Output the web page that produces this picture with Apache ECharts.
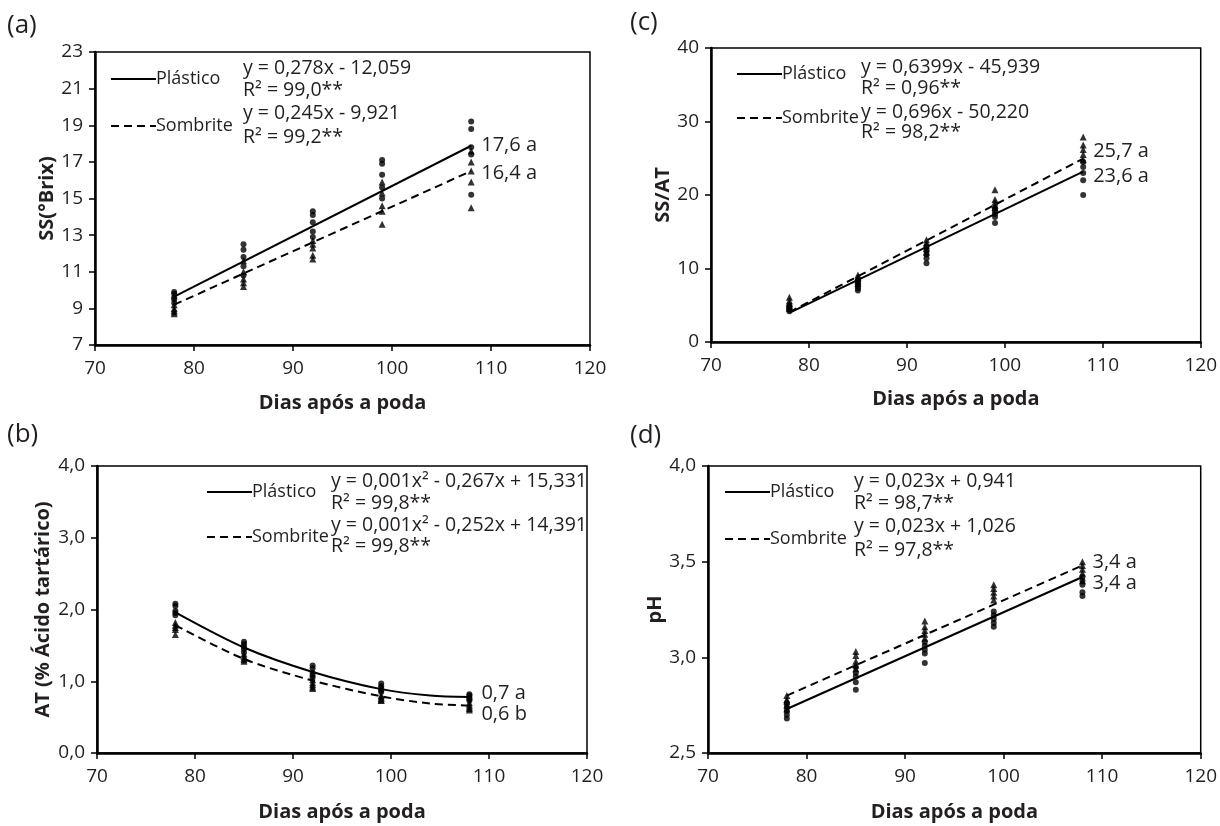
<!DOCTYPE html>
<html>
<head>
<meta charset="utf-8">
<title>SS, AT, SS/AT e pH</title>
<script src="https://cdn.jsdelivr.net/npm/echarts@6.0.0/dist/echarts.min.js"></script>
<style>
html, body { margin: 0; padding: 0; background: #fff; }
#chart { width: 1220px; height: 826px; }
</style>
</head>
<body>
<div id="chart"></div>
<script>
// dias após a poda
var dias = [78, 85, 92, 99, 108];
var retaDias = [78, 108];
var curvaDias = [78, 85, 92, 99, 104, 108];

// (a) SS (°Brix)
var ssPlastico = [[9.9, 9.8, 9.6, 9.5, 9.3], [12.5, 12.2, 11.8, 11.3, 10.8], [14.3, 14.1, 13.7, 13.2, 12.9], [17.1, 16.9, 16.3, 15.6, 15.0], [19.2, 18.8, 17.8, 17.4, 15.2]];
var ssSombrite = [[9.2, 9.0, 8.9, 8.8, 8.7], [11.6, 11.0, 10.6, 10.4, 10.2], [12.7, 12.5, 12.3, 11.9, 11.7], [15.9, 15.3, 14.6, 14.3, 13.6], [17.6, 17.0, 16.5, 15.9, 14.5]];
var ssRetaPlastico = [9.64, 17.88];
var ssRetaSombrite = [9.2, 16.5];

// (c) SS/AT
var ratioPlastico = [[5.0, 4.8, 4.6, 4.4, 4.2], [8.4, 8.0, 7.6, 7.3, 7.0], [13.0, 12.4, 11.9, 11.4, 10.7], [18.2, 17.8, 17.4, 17.0, 16.2], [24.5, 23.8, 23.0, 22.0, 20.0]];
var ratioSombrite = [[6.1, 5.6, 5.2, 4.9, 4.6], [9.1, 8.8, 8.6, 8.3, 8.0], [13.9, 13.5, 13.1, 12.7, 12.2], [20.7, 19.4, 19.0, 18.6, 18.3], [27.9, 26.8, 26.2, 25.5, 24.8]];
var ratioRetaPlastico = [3.97, 23.17];
var ratioRetaSombrite = [4.07, 24.95];

// (b) AT (% ácido tartárico)
var atPlastico = [[2.08, 2.05, 1.98, 1.95, 1.92], [1.55, 1.52, 1.48, 1.45, 1.40], [1.22, 1.18, 1.12, 1.08, 1.05], [0.97, 0.93, 0.90, 0.87, 0.85], [0.82, 0.80, 0.77, 0.75, 0.73]];
var atSombrite = [[1.82, 1.78, 1.75, 1.72, 1.65], [1.38, 1.35, 1.32, 1.30, 1.28], [1.02, 0.98, 0.95, 0.92, 0.90], [0.80, 0.78, 0.76, 0.74, 0.73], [0.70, 0.67, 0.64, 0.62, 0.60]];
var atCurvaPlastico = [1.96, 1.47, 1.13, 0.89, 0.80, 0.78];
var atCurvaSombrite = [1.78, 1.31, 1.01, 0.79, 0.69, 0.66];

// (d) pH
var phPlastico = [[2.76, 2.74, 2.72, 2.70, 2.68], [2.95, 2.92, 2.90, 2.87, 2.83], [3.08, 3.06, 3.04, 3.02, 2.97], [3.24, 3.22, 3.20, 3.18, 3.16], [3.42, 3.40, 3.38, 3.34, 3.32]];
var phSombrite = [[2.80, 2.78, 2.77, 2.75, 2.73], [3.03, 3.01, 2.98, 2.96, 2.94], [3.19, 3.16, 3.14, 3.12, 3.10], [3.38, 3.36, 3.34, 3.32, 3.30], [3.50, 3.48, 3.46, 3.44, 3.40]];
var phRetaPlastico = [2.73, 3.42];
var phRetaSombrite = [2.80, 3.48];

var fonte = '"Open Sans", "Noto Sans", sans-serif';
var corTexto = '#231f20';

function pontos(valores) {
    var out = [];
    for (var i = 0; i < dias.length; i++) {
        for (var j = 0; j < valores[i].length; j++) {
            out.push([dias[i], valores[i][j]]);
        }
    }
    return out;
}
function pares(xs, ys) {
    return xs.map(function (x, i) { return [x, ys[i]]; });
}
function virgula(dec) {
    return function (v) { return dec ? v.toFixed(dec).replace('.', ',') : String(v); };
}

function eixoX(g, gap) {
    return {
        type: 'value', gridIndex: g, min: 70, max: 120, interval: 10,
        name: 'Dias após a poda', nameLocation: 'middle', nameGap: gap,
        nameTextStyle: { fontFamily: fonte, fontWeight: 'bold', fontSize: 20, color: corTexto },
        axisLine: { show: true, lineStyle: { color: '#000', width: 2.5 } },
        axisTick: { show: true, length: 6, lineStyle: { color: '#000', width: 1.5 } },
        axisLabel: { fontFamily: fonte, fontSize: 19, color: corTexto, margin: 14 },
        splitLine: { show: false }
    };
}
function eixoY(g, nome, min, max, intervalo, dec, gap) {
    return {
        type: 'value', gridIndex: g, min: min, max: max, interval: intervalo,
        name: nome, nameLocation: 'middle', nameGap: gap, nameRotate: 90,
        nameTextStyle: { fontFamily: fonte, fontWeight: 'bold', fontSize: 20, color: corTexto },
        axisLine: { show: true, lineStyle: { color: '#000', width: 2.5 } },
        axisTick: { show: true, length: 6, lineStyle: { color: '#000', width: 1.5 } },
        axisLabel: { fontFamily: fonte, fontSize: 19, color: corTexto, margin: 12, formatter: virgula(dec) },
        splitLine: { show: false }
    };
}

function seriesPainel(g, plastico, sombrite, linhaX, linhaP, linhaS, suave, rotP, rotS, offP, offS) {
    var rot = function (txt, off) {
        return { show: true, formatter: txt, offset: off, fontFamily: fonte, fontSize: 20, color: corTexto, distance: 10 };
    };
    return [{
        name: 'pontos Plástico', type: 'scatter', xAxisIndex: g, yAxisIndex: g,
        symbol: 'circle', symbolSize: 6, itemStyle: { color: '#000' },
        data: pontos(plastico)
    }, {
        name: 'pontos Sombrite', type: 'scatter', xAxisIndex: g, yAxisIndex: g,
        symbol: 'triangle', symbolSize: 7, itemStyle: { color: '#000' },
        data: pontos(sombrite)
    }, {
        name: 'Plástico', type: 'line', xAxisIndex: g, yAxisIndex: g,
        symbol: 'none', smooth: suave, lineStyle: { color: '#000', width: 2 },
        itemStyle: { color: '#000' },
        endLabel: rot(rotP, offP),
        data: pares(linhaX, linhaP)
    }, {
        name: 'Sombrite', type: 'line', xAxisIndex: g, yAxisIndex: g,
        symbol: 'none', smooth: suave, lineStyle: { color: '#000', width: 2, type: [8, 5] },
        itemStyle: { color: '#000' },
        endLabel: rot(rotS, offS),
        data: pares(linhaX, linhaS)
    }];
}

function legenda(left, top, gap) {
    return {
        left: left, top: top, orient: 'vertical', itemWidth: 45, itemHeight: 14, itemGap: gap,
        selectedMode: false, data: ['Plástico', 'Sombrite'],
        itemStyle: { opacity: 0 },
        textStyle: { fontFamily: fonte, fontSize: 18, color: corTexto, padding: [0, 0, 0, -5] }
    };
}

function texto(x, y, txt, size) {
    return {
        type: 'text', x: x, y: y,
        style: { text: txt, fontFamily: fonte, fontSize: size || 19.5, fill: corTexto, verticalAlign: 'middle' }
    };
}

var chart = echarts.init(document.getElementById('chart'), null, { renderer: 'canvas' });
chart.setOption({
    animation: false,
    backgroundColor: '#fff',
    grid: [
        { left: 95, top: 52, width: 495, height: 293, show: true, borderColor: '#000', borderWidth: 1.5 },
        { left: 711, top: 48, width: 496, height: 294, show: true, borderColor: '#000', borderWidth: 1.5 },
        { left: 97, top: 466, width: 490, height: 287, show: true, borderColor: '#000', borderWidth: 1.5 },
        { left: 708, top: 466, width: 494, height: 287, show: true, borderColor: '#000', borderWidth: 1.5 }
    ],
    xAxis: [eixoX(0, 48), eixoX(1, 47), eixoX(2, 49), eixoX(3, 49)],
    yAxis: [
        eixoY(0, 'SS(°Brix)', 7, 23, 2, 0, 36),
        eixoY(1, 'SS/AT', 0, 40, 10, 0, 34),
        eixoY(2, 'AT (% Ácido tartárico)', 0, 4, 1, 1, 44),
        eixoY(3, 'pH', 2.5, 4, 0.5, 1, 39)
    ],
    legend: [
        legenda(105, 65, 29),
        legenda(731, 60, 26),
        legenda(201, 478, 27),
        legenda(719, 478, 29)
    ],
    graphic: [
        texto(7, 26, '(a)', 26),
        texto(630, 23, '(c)', 26),
        texto(7, 435, '(b)', 26),
        texto(630, 436, '(d)', 26),

        texto(243, 68, 'y = 0,278x - 12,059'),
        texto(243, 90, 'R² = 99,0**'),
        texto(243, 113, 'y = 0,245x - 9,921'),
        texto(243, 137, 'R² = 99,2**'),

        texto(861, 67, 'y = 0,6399x - 45,939'),
        texto(861, 88, 'R² = 0,96**'),
        texto(861, 112, 'y = 0,696x - 50,220'),
        texto(861, 132, 'R² = 98,2**'),

        texto(331, 481, 'y = 0,001x² - 0,267x + 15,331'),
        texto(331, 503, 'R² = 99,8**'),
        texto(331, 525, 'y = 0,001x² - 0,252x + 14,391'),
        texto(331, 546, 'R² = 99,8**'),

        texto(854, 481, 'y = 0,023x + 0,941'),
        texto(854, 503, 'R² = 98,7**'),
        texto(854, 526, 'y = 0,023x + 1,026'),
        texto(854, 550, 'R² = 97,8**')
    ],
    series: [].concat(
        seriesPainel(0, ssPlastico, ssSombrite, retaDias, ssRetaPlastico, ssRetaSombrite, false, '17,6 a', '16,4 a', [0, 0], [0, 2]),
        seriesPainel(1, ratioPlastico, ratioSombrite, retaDias, ratioRetaPlastico, ratioRetaSombrite, false, '23,6 a', '25,7 a', [0, 5], [0, -7]),
        seriesPainel(2, atPlastico, atSombrite, curvaDias, atCurvaPlastico, atCurvaSombrite, 0.3, '0,7 a', '0,6 b', [2, -4], [2, 9]),
        seriesPainel(3, phPlastico, phSombrite, retaDias, phRetaPlastico, phRetaSombrite, false, '3,4 a', '3,4 a', [0, 6], [0, -3])
    )
});
</script>
</body>
</html>
